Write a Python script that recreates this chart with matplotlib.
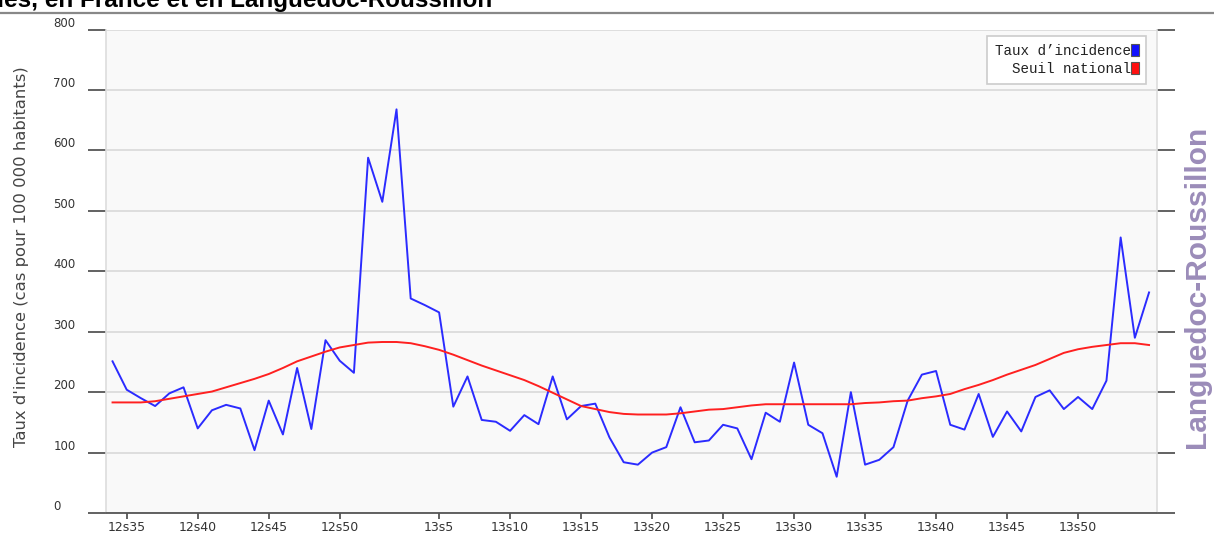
import matplotlib
matplotlib.use('Agg')
import matplotlib.pyplot as plt
import matplotlib.patches as mpatches
from matplotlib.lines import Line2D

# ─── DATA ─────────────────────────────────────────────────────────────────
# one point per week, from 12s34 to the last week shown
incidence = [251, 204, 190, 177, 198, 208, 140, 170, 179, 173,
             104, 186, 130, 240, 139, 286, 252, 232, 588, 515,
             668, 355, 344, 332, 176, 226, 154, 151, 136, 162,
             147, 226, 155, 177, 181, 125, 84, 80, 100, 109,
             175, 117, 120, 146, 140, 89, 166, 151, 249, 146,
             132, 60, 200, 80, 88, 109, 186, 229, 235, 146,
             138, 197, 126, 168, 135, 192, 203, 172, 192, 172,
             219, 456, 290, 365]
seuil = [183, 183, 183, 185, 189, 193, 197, 201, 208, 215,
         222, 230, 240, 251, 259, 267, 274, 278, 282, 283,
         283, 281, 276, 270, 262, 253, 244, 236, 228, 220,
         210, 199, 188, 177, 172, 167, 164, 163, 163, 163,
         165, 168, 171, 172, 175, 178, 180, 180, 180, 180,
         180, 180, 180, 182, 183, 185, 186, 190, 193, 197,
         205, 212, 220, 229, 237, 245, 255, 265, 271, 275,
         278, 281, 281, 278]
week_idx = list(range(len(incidence)))

xtick_pos    = [1, 6, 11, 16, 23, 28, 33, 38, 43, 48, 53, 58, 63, 68]
xtick_labels = ['12s35', '12s40', '12s45', '12s50', '13s5', '13s10', '13s15',
                '13s20', '13s25', '13s30', '13s35', '13s40', '13s45', '13s50']
ytick_pos = [0, 100, 200, 300, 400, 500, 600, 700, 800]

NARROW = ['Liberation Sans Narrow', 'DejaVu Sans']
MONO   = ['Liberation Mono', 'DejaVu Sans Mono']

# ─── FIGURE ───────────────────────────────────────────────────────────────
fig = plt.figure(figsize=(12.14, 5.33), dpi=100, facecolor='white')
ax = fig.add_axes([106/1214, 20/533, 1051/1214, 483.4/533])
ax.set_facecolor('#f9f9f9')

ax.plot(week_idx, incidence, color='#2b2bff', lw=1.4, zorder=3)
ax.plot(week_idx, seuil, color='#ff2020', lw=1.4, zorder=3)

ax.set_xlim(-0.46, 73.56)
ax.set_ylim(0, 800)

ax.yaxis.grid(True, color='#dcdcdc', lw=1.3)
ax.set_axisbelow(True)

for s in ('left', 'right'):
    ax.spines[s].set_color('#dddddd')
    ax.spines[s].set_linewidth(1.2)
ax.spines['top'].set_visible(False)
ax.spines['bottom'].set_color('#555555')
ax.spines['bottom'].set_linewidth(1.3)

ax.set_yticks(ytick_pos)
ax.set_yticklabels([str(v) for v in ytick_pos], family=NARROW, fontsize=8.5,
                   color='#333333', ha='left', va='bottom')
ax.tick_params(axis='y', direction='out', length=13, width=1.3, color='#555555',
               pad=25, right=True, labelright=False)

ax.set_xticks(xtick_pos)
ax.set_xticklabels(xtick_labels, family=NARROW, fontsize=9, color='#333333')
ax.tick_params(axis='x', direction='out', length=4.5, width=1.3,
               color='#555555', pad=1)

ax.set_ylabel("Taux d'incidence (cas pour 100 000 habitants)",
              family=NARROW, fontsize=11.8, color='#444444', labelpad=0)
ax.yaxis.set_label_coords(-77/1051, 0.53)

# right-side region name
fig.text(1197/1214, 1 - 287/533, 'Languedoc-Roussillon', rotation=90,
         ha='center', va='center', fontsize=21.5, fontweight='bold',
         color='#9b8cb9', family='Liberation Sans')

# title (clipped at top in the original) and separator line
fig.text(492/1214, 1 - 7/533, 'Diarrhées aiguës, en France et en Languedoc-Roussillon',
         ha='right', va='baseline', fontsize=17.5, fontweight='bold',
         color='black', family='Liberation Sans')
fig.add_artist(Line2D([0, 1], [1 - 12.5/533, 1 - 12.5/533], transform=fig.transFigure,
                      color='#888888', lw=1.6))

# legend
handles = [mpatches.Patch(facecolor='#1010ff', edgecolor='#555555', lw=0.8,
                          label='Taux d’incidence'),
           mpatches.Patch(facecolor='#ff1010', edgecolor='#555555', lw=0.8,
                          label='Seuil national')]
leg = ax.legend(handles=handles, loc='upper right', bbox_to_anchor=(0.99, 0.987),
                markerfirst=False, prop={'family': MONO, 'size': 10.3},
                handlelength=0.5, handleheight=0.95, handletextpad=0.05,
                labelspacing=0.3, borderpad=0.55, borderaxespad=0,
                frameon=True, fancybox=False, edgecolor='#cccccc',
                facecolor='white', framealpha=1)
leg.get_frame().set_linewidth(1.2)
for t in leg.get_texts():
    t.set_ha('right')
    t.set_color('#222222')
leg._legend_box.align = 'right'

plt.savefig('out.png', dpi=100, facecolor='white')
